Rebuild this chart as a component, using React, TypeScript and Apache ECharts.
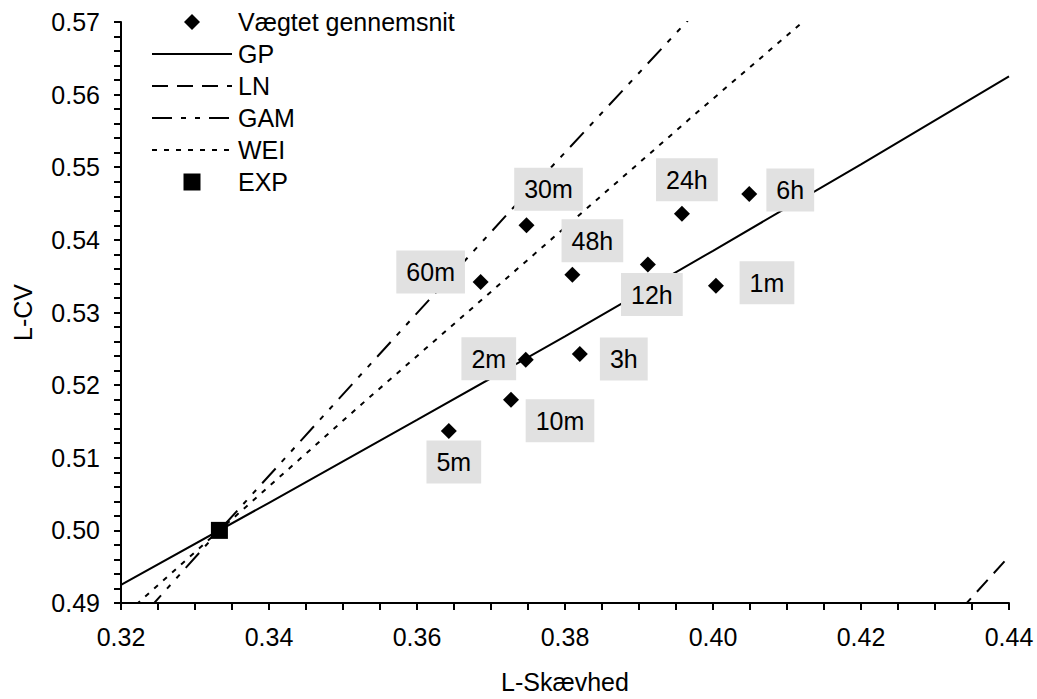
import React, { useEffect, useRef } from "react";
import * as echarts from "echarts";

// Weighted averages (L-skewness, L-CV) per duration
const pointNames = ["1m", "2m", "5m", "10m", "30m", "60m", "3h", "6h", "12h", "24h", "48h"];
const pointLSkew = [0.4004, 0.3747, 0.3643, 0.3727, 0.3748, 0.3686, 0.382, 0.4049, 0.3912, 0.3958, 0.381];
const pointLCv = [0.5337, 0.5235, 0.5137, 0.518, 0.542, 0.5342, 0.5243, 0.5463, 0.5366, 0.5436, 0.5352];

// Theoretical curves (L-skewness, L-CV)
const gpSkew = [0.32, 0.34, 0.36, 0.38, 0.4, 0.42, 0.44];
const gpCv = [0.4925, 0.5038, 0.5152, 0.5267, 0.5385, 0.5504, 0.5625];
const lnSkew = [0.4334, 0.4415];
const lnCv = [0.489, 0.4981];
const gamSkew = [0.3236, 0.3333, 0.353, 0.3728, 0.3797, 0.3964, 0.3985];
const gamCv = [0.489, 0.5, 0.5221, 0.5442, 0.5517, 0.57, 0.5723];
const weiSkew = [0.3148, 0.3333, 0.3531, 0.3748, 0.3979, 0.4135];
const weiCv = [0.4832, 0.5, 0.5179, 0.5371, 0.5576, 0.5712];
const expSkew = [0.3333];
const expCv = [0.5];

// Axis tick labels and legend names
const xTicks = ["0.32", "0.34", "0.36", "0.38", "0.40", "0.42", "0.44"];
const yTicks = ["0.49", "0.50", "0.51", "0.52", "0.53", "0.54", "0.55", "0.56", "0.57"];
const legendNames = ["Vægtet gennemsnit", "GP", "LN", "GAM", "WEI", "EXP"];

// Label placement (layout, not data)
const labelOffsets: Record<string, [number, number]> = {
  "30m": [22, -36],
  "24h": [5, -34],
  "6h": [41, -4],
  "60m": [-50, -10],
  "48h": [20, -34],
  "12h": [4, 30],
  "1m": [51, -3],
  "2m": [-37, -1],
  "3h": [44, 5],
  "10m": [49, 21],
  "5m": [5, 31],
};

const FONT = "Arial, 'Liberation Sans', sans-serif";
const FS = 25;
const dashes: Record<string, number[] | null> = {
  GP: null,
  LN: [16, 9],
  GAM: [20, 9, 5, 9, 5, 9],
  WEI: [5, 7],
};

const zip = (a: number[], b: number[]) => a.map((v, i) => [v, b[i]]);

export default function App() {
  const ref = useRef<HTMLDivElement>(null);
  useEffect(() => {
    if (!ref.current) return;
    const chart = echarts.init(ref.current, undefined, { renderer: "svg" });
    const axisCommon = {
      axisLine: { show: true, onZero: false, lineStyle: { color: "#000", width: 2 } },
      axisTick: { show: true, inside: false, length: 7, lineStyle: { color: "#000", width: 2 } },
      minorTick: { show: true, length: 7, lineStyle: { color: "#000", width: 2 } },
      splitLine: { show: false },
      minorSplitLine: { show: false },
      nameTextStyle: { color: "#000", fontSize: FS, fontFamily: FONT },
    };

    // Legend drawn as graphics (rows 32px apart)
    const legendX0 = 152;
    const legendX1 = 232;
    const rowY = (i: number) => 22 + i * 32;
    const legendGraphics: any[] = [];
    legendNames.forEach((name, i) => {
      const y = rowY(i);
      const cx = (legendX0 + legendX1) / 2;
      if (i === 0) {
        legendGraphics.push({
          type: "polygon",
          shape: { points: [[cx, y - 8], [cx + 8, y], [cx, y + 8], [cx - 8, y]] },
          style: { fill: "#000" },
        });
      } else if (name === "EXP") {
        legendGraphics.push({
          type: "rect",
          shape: { x: cx - 8.5, y: y - 8.5, width: 17, height: 17 },
          style: { fill: "#000" },
        });
      } else {
        legendGraphics.push({
          type: "line",
          shape: { x1: legendX0, y1: y, x2: legendX1, y2: y },
          style: { stroke: "#000", lineWidth: 2, lineDash: dashes[name] || undefined },
        });
      }
      legendGraphics.push({
        type: "text",
        x: 238,
        y,
        style: {
          text: name,
          fill: "#000",
          fontSize: FS,
          fontFamily: FONT,
          verticalAlign: "middle",
          align: "left",
        },
      });
    });

    const lineSeries = (name: string, xs: number[], ys: number[]) => ({
      name,
      type: "line",
      symbol: "none",
      showSymbol: false,
      lineStyle: { color: "#000", width: 2, type: dashes[name] || "solid" },
      itemStyle: { color: "#000" },
      data: zip(xs, ys),
    });

    const option: any = {
      animation: false,
      backgroundColor: "#fff",
      textStyle: { fontFamily: FONT },
      grid: { left: 121, right: 28, top: 22, bottom: 95, containLabel: false },
      graphic: legendGraphics,
      xAxis: {
        type: "value",
        min: 0.32,
        max: 0.44,
        interval: 0.02,
        name: "L-Skævhed",
        nameLocation: "middle",
        nameGap: 66,
        ...axisCommon,
        minorTick: { ...axisCommon.minorTick, splitNumber: 4 },
        axisLabel: {
          color: "#000",
          fontSize: FS,
          fontFamily: FONT,
          margin: 21,
          formatter: (v: number) => xTicks[Math.round((v - 0.32) / 0.02)] ?? v.toFixed(2),
        },
      },
      yAxis: {
        type: "value",
        min: 0.49,
        max: 0.57,
        interval: 0.01,
        name: "L-CV",
        nameLocation: "middle",
        nameGap: 86,
        nameRotate: 90,
        ...axisCommon,
        minorTick: { ...axisCommon.minorTick, splitNumber: 5 },
        axisLabel: {
          color: "#000",
          fontSize: FS,
          fontFamily: FONT,
          margin: 21,
          formatter: (v: number) => yTicks[Math.round((v - 0.49) / 0.01)] ?? v.toFixed(2),
        },
      },
      series: [
        {
          name: "Vægtet gennemsnit",
          type: "scatter",
          symbol: "diamond",
          symbolSize: 16,
          itemStyle: { color: "#000", opacity: 1 },
          z: 5,
          data: pointNames.map((n, i) => ({
            name: n,
            value: [pointLSkew[i], pointLCv[i]],
            label: { offset: labelOffsets[n] },
          })),
          label: {
            show: true,
            position: "inside",
            formatter: "{b}",
            color: "#000",
            fontSize: FS,
            fontFamily: FONT,
            lineHeight: 25,
            backgroundColor: "#e1e1e1",
            padding: [9, 10],
            align: "center",
            verticalAlign: "middle",
          },
        },
        lineSeries("GP", gpSkew, gpCv),
        lineSeries("LN", lnSkew, lnCv),
        lineSeries("GAM", gamSkew, gamCv),
        lineSeries("WEI", weiSkew, weiCv),
        {
          name: "EXP",
          type: "scatter",
          symbol: "rect",
          symbolSize: 17,
          itemStyle: { color: "#000", opacity: 1 },
          z: 6,
          data: zip(expSkew, expCv),
        },
      ],
    };
    chart.setOption(option);
    return () => chart.dispose();
  }, []);
  return (
    <div
      ref={ref}
      style={{ position: "fixed", left: 0, top: 0, width: 1037, height: 699, background: "#fff" }}
    />
  );
}
